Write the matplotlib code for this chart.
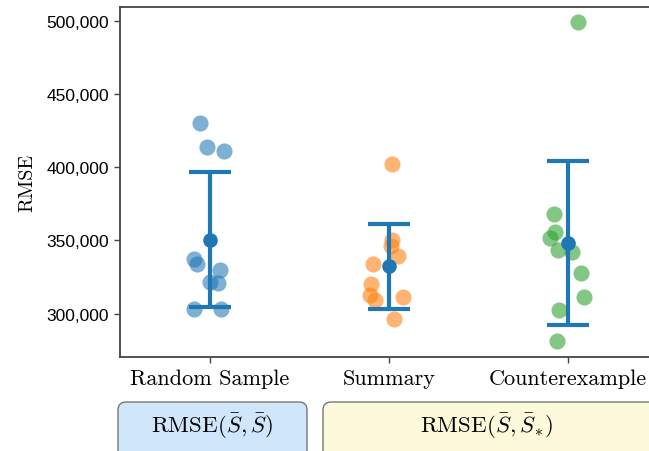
"""Strip plot of RMSE per selection method, with mean +/- std bars and metric boxes."""

import matplotlib
matplotlib.use("Agg")
import matplotlib.pyplot as plt
import numpy as np
from matplotlib.patches import FancyBboxPatch
from matplotlib.ticker import FuncFormatter

plt.rcParams["mathtext.fontset"] = "cm"
plt.rcParams["axes.unicode_minus"] = False

categories = ["Random Sample", "Summary", "Counterexample"]
colors = ["#1f77b4", "#ff7f0e", "#2ca02c"]

rmse_random = [430400, 413750, 411000, 337300, 334300, 329700, 321800, 321100, 302950, 302950]
rmse_summary = [402500, 350300, 346500, 339600, 334300, 320600, 312600, 309100, 311500, 296600]
rmse_counter = [499100, 367960, 355600, 351500, 343450, 342350, 327940, 311460, 302270, 281670]

# horizontal jitter of each point (as drawn in the original strip plot)
jitter_random = [-0.052, -0.015, 0.082, -0.085, -0.070, 0.056, 0.004, 0.045, -0.085, 0.064]
jitter_summary = [0.018, 0.018, 0.012, 0.049, -0.090, -0.100, -0.103, -0.075, 0.079, 0.031]
jitter_counter = [0.054, -0.076, -0.071, -0.103, -0.058, 0.022, 0.073, 0.087, -0.052, -0.061]

y_ticks = [300000, 350000, 400000, 450000, 500000]

groups = [rmse_random, rmse_summary, rmse_counter]
jitters = [jitter_random, jitter_summary, jitter_counter]

fig = plt.figure(figsize=(6.49, 4.52), dpi=100)
ax = fig.add_axes([0.1849, 0.2073, 0.8284, 0.7743])

for i, (vals, jit, c) in enumerate(zip(groups, jitters, colors)):
    xs = i + np.array(jit)
    ax.scatter(xs, vals, s=135, color=c, alpha=0.58, linewidths=0, zorder=2)

means = [np.mean(v) for v in groups]
stds = [np.std(v) for v in groups]
ax.errorbar(range(len(categories)), means, yerr=stds, fmt="o", color="#1f77b4",
            markersize=9.5, elinewidth=3, capsize=15, capthick=3, zorder=3)

ax.set_xlim(-0.5, 2.5)
ax.set_ylim(270300, 509100)
ax.set_yticks(y_ticks)
ax.yaxis.set_major_formatter(FuncFormatter(lambda v, _: f"{int(v):,}"))
ax.set_xticks(range(len(categories)))
ax.set_xticklabels(categories, fontfamily="cmr10", fontsize=16)
for lab in ax.get_yticklabels():
    lab.set_fontfamily("Liberation Sans")
    lab.set_fontsize(12.5)
ax.set_ylabel("RMSE", fontfamily="cmr10", fontsize=14.5, labelpad=7)

for side in ("left", "bottom", "top", "right"):
    ax.spines[side].set_color("#444444")
    ax.spines[side].set_linewidth(1.3)
ax.tick_params(colors="#444444", labelcolor="black", length=4.5, width=1)

# metric boxes under the axis, placed in inches
boxes = [
    (1.18, 1.89, "#d0e6fa", r"$\mathrm{RMSE}(\bar{S}, \bar{S})$", 2.12),
    (3.23, 3.40, "#fdfadb", r"$\mathrm{RMSE}(\bar{S}, \bar{S}_{*})$", 4.86),
]
for x0, w, fc, txt, tx in boxes:
    patch = FancyBboxPatch((x0, -0.3), w, 0.79, boxstyle="round,pad=0,rounding_size=0.08",
                           transform=fig.dpi_scale_trans, facecolor=fc,
                           edgecolor="#777777", linewidth=1.0, clip_on=False)
    fig.add_artist(patch)
    fig.text(tx, 0.26, txt, transform=fig.dpi_scale_trans, ha="center", va="center",
             fontsize=16.5)

fig.savefig("out.png", dpi=100)
